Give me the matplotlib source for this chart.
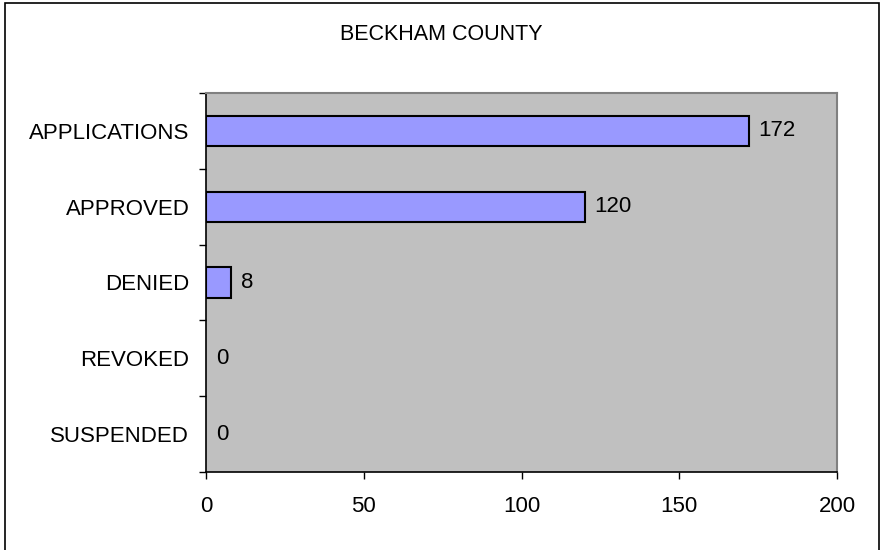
import matplotlib
matplotlib.use("Agg")
import matplotlib.pyplot as plt
from matplotlib.patches import Rectangle
import numpy as np

categories = ["APPLICATIONS", "APPROVED", "DENIED", "REVOKED", "SUSPENDED"]
values = [172, 120, 8, 0, 0]
xticks = [0, 50, 100, 150, 200]
title = "BECKHAM COUNTY"

plt.rcParams['font.family'] = ['Liberation Sans', 'DejaVu Sans']
FS = 16

fig = plt.figure(figsize=(8.81, 5.5), dpi=100)
W, H = 881, 550
ax = fig.add_axes([206 / W, 1 - 472 / H, (837 - 206) / W, (472 - 93) / H])
ax.set_facecolor("#C0C0C0")

n = len(categories)
ypos = np.arange(n)
lws = [1.5 if v > 0 else 0 for v in values]
ax.barh(ypos, values, height=0.4, color="#9999FF", edgecolor="black", linewidth=lws, zorder=3)
ax.set_ylim(n - 0.5, -0.5)
ax.set_xlim(0, 200)

ax.set_xticks(xticks)
ax.set_xticklabels([str(t) for t in xticks], fontsize=FS)
ax.tick_params(axis='x', direction='out', length=5, width=1, pad=12, colors='black')

ax.set_yticks(np.arange(n + 1) - 0.5)
ax.set_yticklabels([])
ax.tick_params(axis='y', which='major', direction='out', length=5, width=1)
ax.set_yticks(ypos, minor=True)
ax.set_yticklabels(categories, minor=True, fontsize=FS)
ax.tick_params(axis='y', which='minor', length=0, pad=12)

for s in ['left', 'bottom']:
    ax.spines[s].set_color('black')
    ax.spines[s].set_linewidth(1.2)
for s in ['top', 'right']:
    ax.spines[s].set_color('#808080')
    ax.spines[s].set_linewidth(1.5)

for y, v in zip(ypos, values):
    ax.annotate(str(v), xy=(v, y), xytext=(7, 0), textcoords='offset points',
                ha='left', va='center', fontsize=FS, zorder=4)

fig.text(441 / W, 1 - 35 / H, title, ha='center', va='center', fontsize=15.5)

fig.patches.append(Rectangle((5 / W, 1 - 560 / H), (879 - 5) / W, (560 - 3) / H,
                             transform=fig.transFigure, fill=False,
                             edgecolor='black', linewidth=1.2))

fig.savefig("out.png", dpi=100)
